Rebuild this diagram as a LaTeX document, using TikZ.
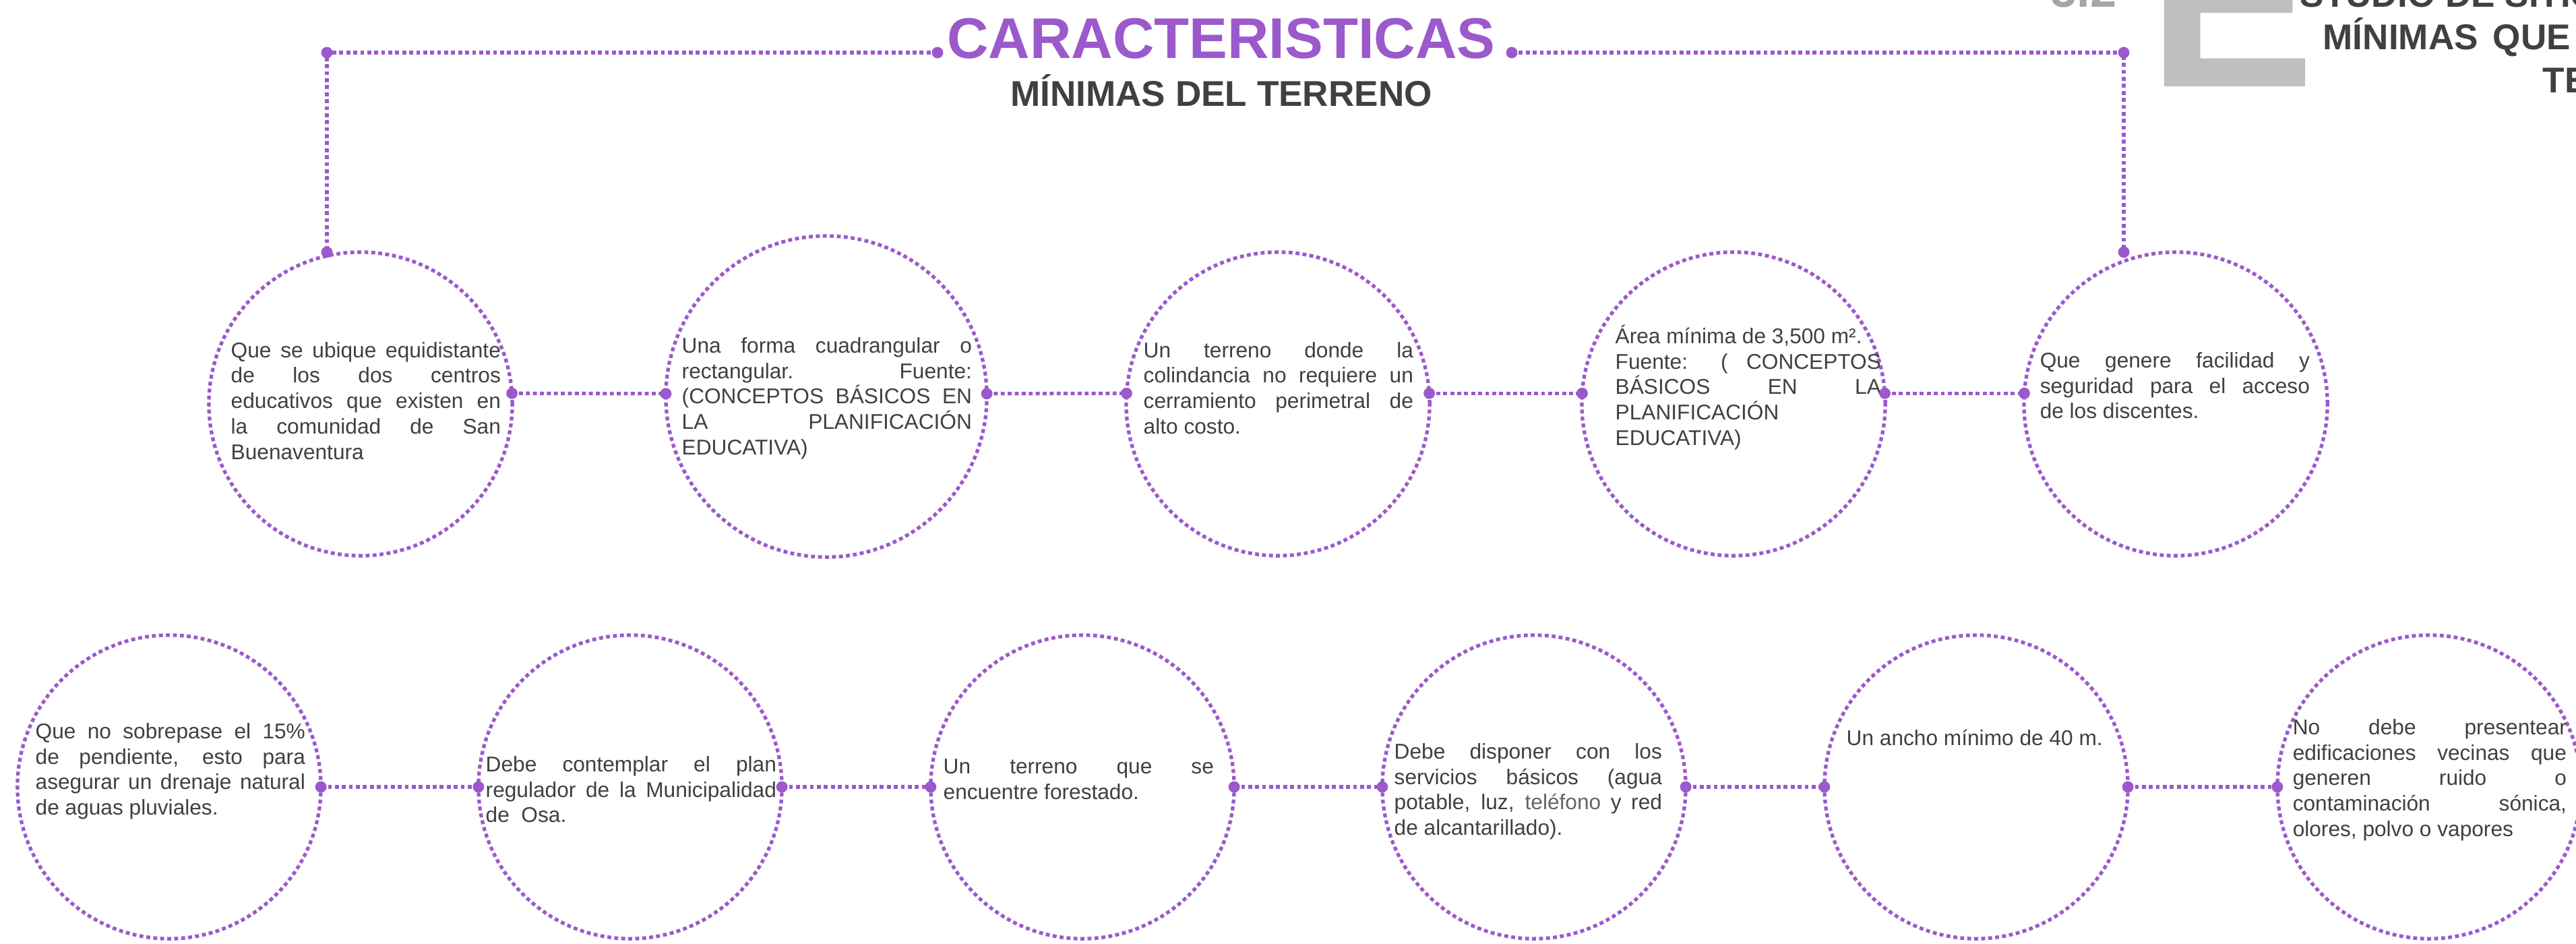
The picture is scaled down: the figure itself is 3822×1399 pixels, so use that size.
\documentclass[tikz,border=0pt]{standalone}
\usepackage{fontspec}
\setmainfont{Liberation Sans}
\definecolor{carpurple}{RGB}{155,89,204}
\definecolor{carink}{RGB}{64,64,64}
\definecolor{carsoft}{RGB}{100,100,100}
\definecolor{carpale}{RGB}{191,191,191}
\definecolor{cargray}{RGB}{166,166,166}
\tolerance=10000
\hyphenpenalty=10000

\begin{document}
\begin{tikzpicture}[
  x=0.01cm,y=-0.01cm,
  trail/.style={draw=carpurple,line width=1.5pt,dash pattern=on 1.65pt off 1.3pt},
  crit/.style={trail,circle,inner sep=0pt,outer sep=0pt,minimum size=4.5cm},
  txt/.style={text=carink,font=\fontsize{9pt}{10.8pt}\selectfont,
    align=justify,text width=4cm,inner sep=0pt,anchor=base west},
  head/.style={text=carink,font=\fontsize{15.1pt}{18pt}\selectfont\bfseries,inner sep=0pt,anchor=base west}]

\useasboundingbox (0,0) rectangle (3822,1399);
\clip (0,0) rectangle (3822,1399);

% ================= HEADER =================
\node[font=\fontsize{24.2pt}{29pt}\selectfont\bfseries,text=carpurple,inner sep=0pt,anchor=base] (ttl) at (1812,86) {CARACTERISTICAS};
\node[head,anchor=base] (sub) at (1812,157) {MÍNIMAS DEL TERRENO};

% chapter mark, cut by the page edge
\node[font=\fontsize{20pt}{24pt}\selectfont\bfseries,text=cargray,inner sep=0pt,anchor=base west] (num) at (3042,10) {5.2};
\node[font=\fontsize{106pt}{110pt}\selectfont\bfseries,text=carpale,inner sep=0pt,anchor=base west] (bigE) at (3186,128) {E};
\node[head] (hd1) at (3412,10) {STUDIO DE SITIO};
\node[head] (hd2) at (3446,73) {MÍNIMAS\hspace{0.22cm}QUE};
\node[head] (hd3) at (3772,137) {TE};

% ================= TOP ROW =================
\node[crit] (c1) at (535,599) {};
\node[crit,minimum size=4.76cm] (c2) at (1226,588) {};
\node[crit] (c3) at (1896,599) {};
\node[crit] (c4) at (2572,599) {};
\node[crit] (c5) at (3228,599) {};

\node[txt] (tc1) at (342,530) {Que se ubique equidistante\linebreak de los dos centros\linebreak educativos que existen en\linebreak la comunidad de San\linebreak Buenaventura};
\node[txt,text width=4.3cm] (tc2) at (1011,523) {Una forma cuadrangular o\linebreak rectangular. Fuente:\linebreak (CONCEPTOS BÁSICOS EN\linebreak LA PLANIFICACIÓN\linebreak EDUCATIVA)};
\node[txt] (tc3) at (1696,530) {Un terreno donde la\linebreak colindancia no requiere un\linebreak cerramiento perimetral de\linebreak alto costo.};
\node[txt,text width=3.94cm] (tc4) at (2396,509) {Área mínima de 3,500 m².\par Fuente: ( CONCEPTOS\linebreak BÁSICOS EN LA\linebreak PLANIFICACIÓN\linebreak EDUCATIVA)};
\node[txt] (tc5) at (3026,545) {Que genere facilidad y\linebreak seguridad para el acceso\linebreak de los discentes.};

\draw[trail] (c1.4) -- (c2.179);
\draw[trail] (c2.1) -- (c3.176);
\draw[trail] (c3.4) -- (c4.176);
\draw[trail] (c4.4) -- (c5.176);

% frame from the title down to the end circles
\coordinate (ttlL) at (1391,78);
\coordinate (ttlR) at (2243,78);
\coordinate (cornL) at (485,78);
\coordinate (cornR) at (3151,78);
\coordinate (dropL) at (cornL |- c1.north);
\coordinate (dropR) at (cornR |- c5.north);
\draw[trail] (ttlL) -- (cornL) -- (dropL);
\draw[trail] (ttlR) -- (cornR) -- (dropR);

% ================= BOTTOM ROW =================
\node[crit] (b1) at (251,1167) {};
\node[crit] (b2) at (935,1167) {};
\node[crit] (b3) at (1606,1167) {};
\node[crit] (b4) at (2276,1167) {};
\node[crit] (b5) at (2932,1167) {};
\node[crit] (b6) at (3604,1167) {};

\node[txt] (tb1) at (52,1095) {Que no sobrepase el 15\%\linebreak de pendiente, esto para\linebreak asegurar un drenaje natural\linebreak de aguas pluviales.};
\node[txt,text width=4.31cm] (tb2) at (720,1144) {Debe contemplar el plan\linebreak regulador de la Municipalidad\linebreak de~~Osa.};
\node[txt,text width=4.01cm] (tb3) at (1399,1147) {Un terreno que se\linebreak encuentre forestado.};
\node[txt,text width=3.97cm] (tb4) at (2068,1125) {Debe disponer con los\linebreak servicios básicos (agua\linebreak potable, luz, \textcolor{carsoft}{teléfono} y red\linebreak de alcantarillado).};
\node[txt] (tb5) at (2739,1105) {Un ancho mínimo de 40 m.};
\node[txt,text width=4.06cm] (tb6) at (3401,1089) {No debe presentear\linebreak edificaciones vecinas que\linebreak generen ruido o\linebreak contaminación sónica,\linebreak olores, polvo o vapores};

\foreach \a/\b in {b1/b2,b2/b3,b3/b4,b4/b5,b5/b6}
  \draw[trail] (\a.east) -- (\b.west);

% ================= DOTS =================
\foreach \p in {c1.4,c2.179,c2.1,c3.176,c3.4,c4.176,c4.4,c5.176,
                ttlL,ttlR,cornL,cornR,dropL,dropR,
                b1.east,b2.west,b2.east,b3.west,b3.east,b4.west,b4.east,b5.west,b5.east,b6.west}
  \fill[carpurple] (\p) circle (2.4pt);
\end{tikzpicture}
\end{document}
